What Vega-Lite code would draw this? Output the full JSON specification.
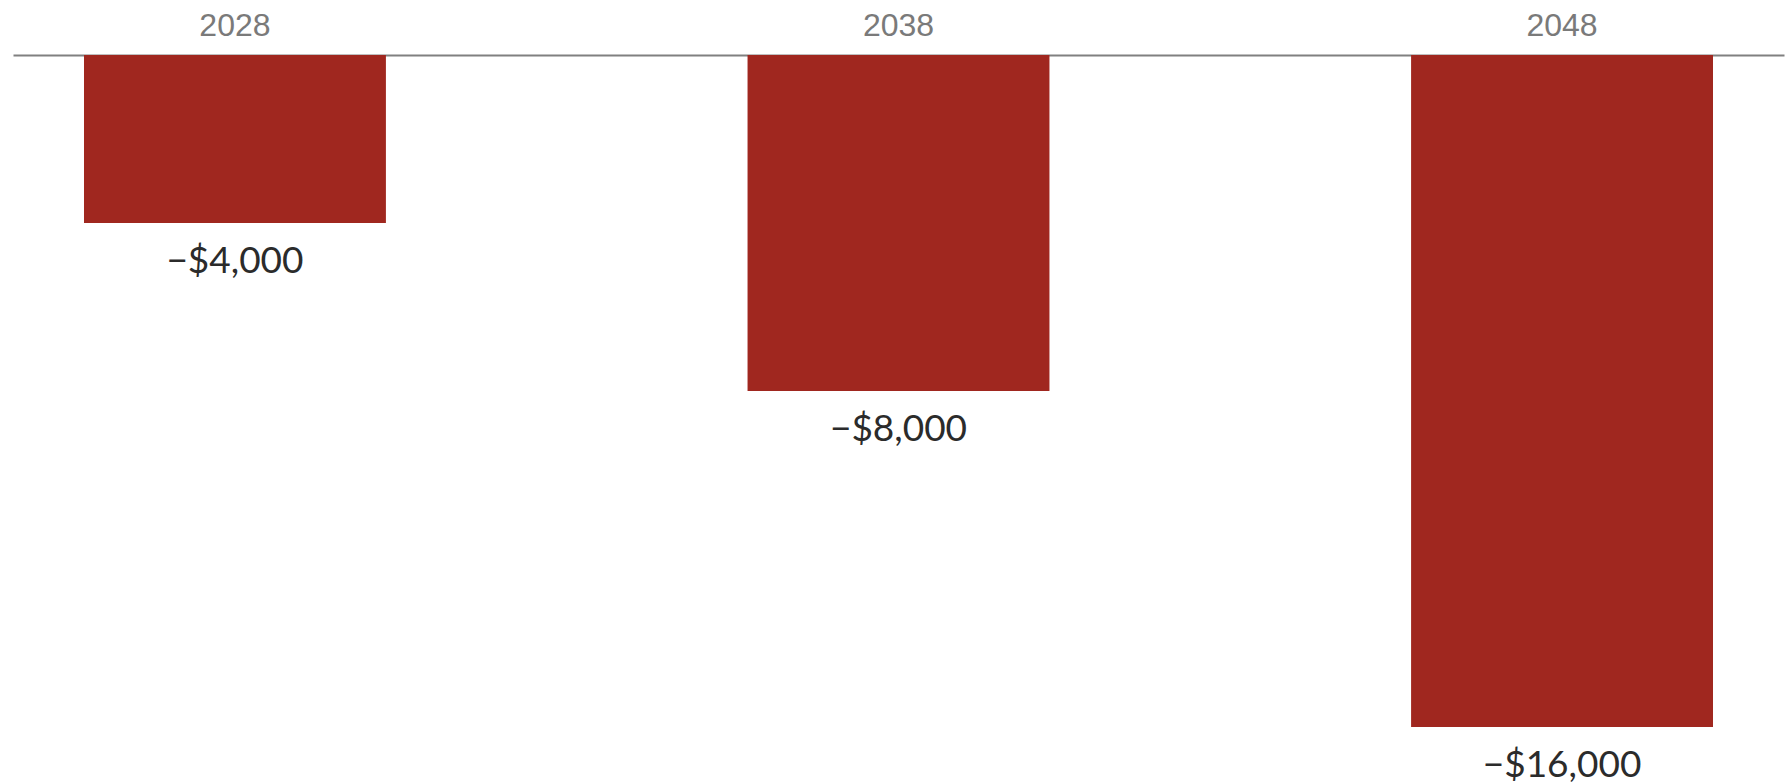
{
  "$schema": "https://vega.github.io/schema/vega-lite/v6.json",
  "width": 1771,
  "height": 672,
  "autosize": "none",
  "padding": {"left": 13, "top": 55, "right": 3, "bottom": 57},
  "background": "white",
  "config": {"view": {"stroke": null}},
  "data": {"values": [
    {"year": "2028", "value": -4000},
    {"year": "2038", "value": -8000},
    {"year": "2048", "value": -16000}
  ]},
  "encoding": {
    "x": {
      "field": "year", "type": "nominal", "sort": null,
      "scale": {"paddingInner": 0.545, "paddingOuter": 0.107},
      "axis": {
        "orient": "top", "title": null, "ticks": false, "labelAngle": 0,
        "labelFont": "Liberation Sans", "labelFontSize": 32, "labelColor": "#7a7a7a",
        "labelPadding": 13, "domainColor": "#808080", "domainWidth": 2
      }
    },
    "y": {
      "field": "value", "type": "quantitative",
      "scale": {"domain": [-16000, 0], "nice": false},
      "axis": null
    }
  },
  "layer": [
    {"mark": {"type": "bar", "color": "#a0271f"}},
    {
      "mark": {"type": "text", "baseline": "middle", "dy": 39, "font": "Lato", "fontSize": 37, "color": "#2b2b2b"},
      "encoding": {"text": {"field": "value", "type": "quantitative", "format": "$,.0f"}}
    }
  ]
}
